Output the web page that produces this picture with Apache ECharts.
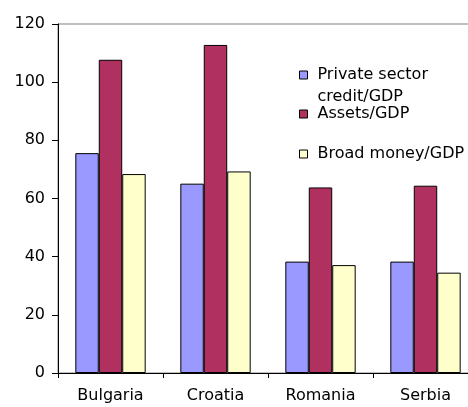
<!DOCTYPE html>
<html>
<head>
<meta charset="utf-8">
<script src="https://cdn.jsdelivr.net/npm/echarts@6/dist/echarts.min.js"></script>
<style>
  html, body { margin: 0; padding: 0; background: #fff; }
  #chart { width: 468px; height: 407px; }
</style>
</head>
<body>
<div id="chart"></div>
<script>
// Financial depth indicators, % of GDP
const countries = ['Bulgaria', 'Croatia', 'Romania', 'Serbia'];
const privateCredit = [75.6, 65.1, 38.3, 38.3];
const assets = [107.7, 112.8, 63.8, 64.4];
const broadMoney = [68.4, 69.3, 37.1, 34.5];
const yTicks = { min: 0, max: 120, interval: 20 };

const FONT = 'DejaVu Sans';
const chart = echarts.init(document.getElementById('chart'), null, { renderer: 'canvas' });

const barStyle = (color) => ({ color: color, borderColor: '#000', borderWidth: 1 });
const legendBase = {
  orient: 'vertical',
  left: 299,
  padding: 0,
  icon: 'rect',
  itemWidth: 8,
  itemHeight: 8,
  selectedMode: false,
  itemStyle: { borderColor: '#000', borderWidth: 1 },
  textStyle: { fontFamily: FONT, fontSize: 16, color: '#000', lineHeight: 22, padding: [0, 0, 0, 5] }
};

chart.setOption({
  animation: false,
  backgroundColor: '#fff',
  grid: {
    left: 58, top: 24, bottom: 34, right: -10,
    outerBoundsMode: 'none',
    show: true, borderColor: '#808080', borderWidth: 1, backgroundColor: 'transparent'
  },
  legend: [
    Object.assign({}, legendBase, {
      top: 42,
      data: ['Private sector credit/GDP'],
      // blank lead line keeps the icon level with the first text line
      formatter: () => ' \nPrivate sector\ncredit/GDP'
    }),
    Object.assign({}, legendBase, { top: 103, data: ['Assets/GDP'] }),
    Object.assign({}, legendBase, { top: 143, data: ['Broad money/GDP'] })
  ],
  xAxis: {
    type: 'category',
    data: countries,
    axisLine: { lineStyle: { color: '#000', width: 1 } },
    axisTick: { show: true, length: 5, lineStyle: { color: '#000' } },
    axisLabel: { fontFamily: FONT, fontSize: 16, color: '#000', margin: 15 }
  },
  yAxis: {
    type: 'value',
    min: yTicks.min, max: yTicks.max, interval: yTicks.interval,
    axisLine: { show: true, lineStyle: { color: '#000', width: 1 } },
    axisTick: { show: true, length: 6, lineStyle: { color: '#000' } },
    splitLine: { show: false },
    axisLabel: { fontFamily: FONT, fontSize: 16, color: '#000', margin: 13 }
  },
  series: [
    { name: 'Private sector credit/GDP', type: 'bar', data: privateCredit, itemStyle: barStyle('#9999FF'), barGap: '0%', barCategoryGap: '33%' },
    { name: 'Assets/GDP', type: 'bar', data: assets, itemStyle: barStyle('#B03060') },
    { name: 'Broad money/GDP', type: 'bar', data: broadMoney, itemStyle: barStyle('#FFFFCC') }
  ]
});
</script>
</body>
</html>
